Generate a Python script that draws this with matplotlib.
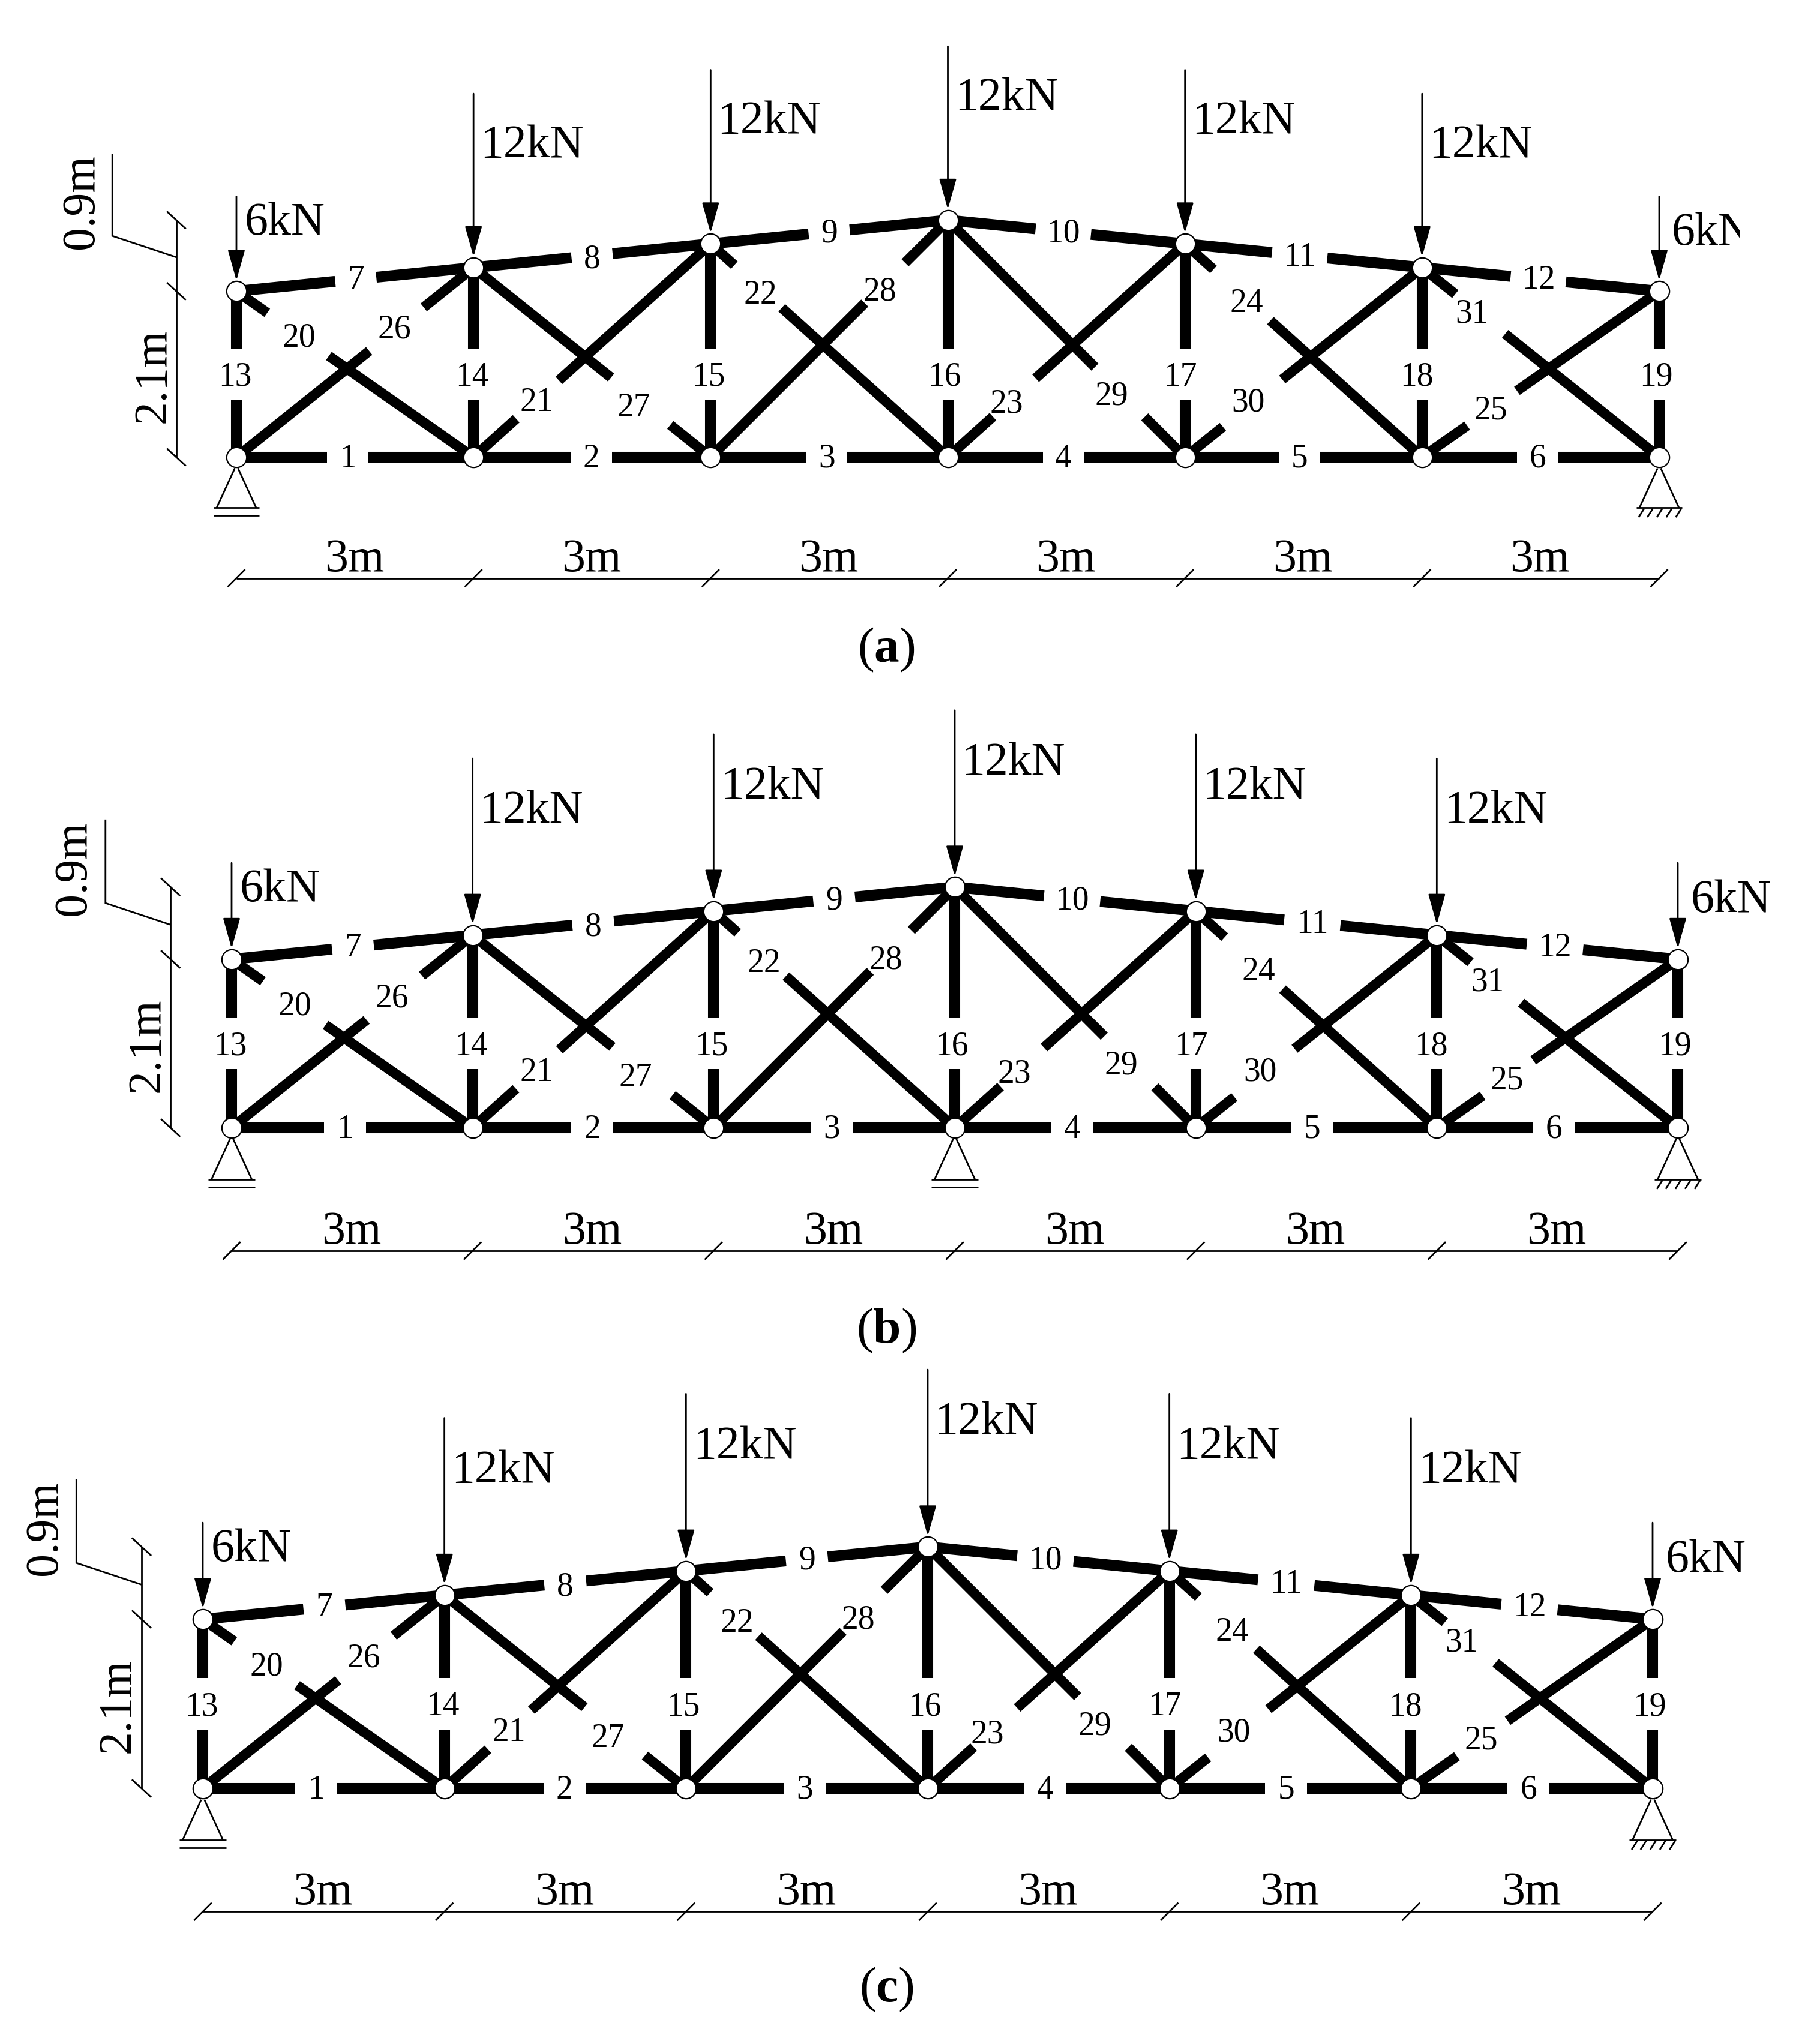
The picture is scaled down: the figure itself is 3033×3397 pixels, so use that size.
# -*- coding: utf-8 -*-
import matplotlib
matplotlib.use('Agg')
import matplotlib.pyplot as plt

plt.rcParams['font.family'] = 'Liberation Serif'
plt.rcParams['mathtext.fontset'] = 'custom'
plt.rcParams['mathtext.rm'] = 'Liberation Serif'
plt.rcParams['mathtext.bf'] = 'Liberation Serif:bold'

# =============================================================================
#                           truss data [m, kN]
# =============================================================================

node_x = [0, 3, 6, 9, 12, 15, 18]
top_y = [2.1, 2.4, 2.7, 3.0, 2.7, 2.4, 2.1]
loads = [6, 12, 12, 12, 12, 12, 6]
arrow_len = [1.2, 2.2, 2.2, 2.2, 2.2, 2.2, 1.2]

bottom_ids = [1, 2, 3, 4, 5, 6]
bottom_lab_x = [1.41, 4.49, 7.47, 10.46, 13.45, 16.46]
top_ids = [7, 8, 9, 10, 11, 12]
top_lab_x = [1.51, 4.50, 7.50, 10.46, 13.45, 16.47]
top_lab_y = [2.24, 2.50, 2.83, 2.83, 2.53, 2.24]
vert_ids = [13, 14, 15, 16, 17, 18, 19]
vert_lab_x = [-0.02, 2.98, 5.97, 8.96, 11.94, 14.93, 17.96]

diag_ids = [20, 26, 21, 27, 22, 28, 23, 29, 24, 30, 31, 25]
diag_span = [0, 0, 1, 1, 2, 2, 3, 3, 4, 4, 5, 5]
diag_down = [True, False, False, True, True, False, False, True, True, False, True, False]
diag_gap_a = [.13, .56, .18, .58, .10, .65, .19, .62, .12, .16, .14, .19]
diag_gap_b = [.39, .79, .36, .83, .30, .82, .37, .83, .36, .41, .35, .40]
diag_lab_x = [.79, 2.00, 3.80, 5.03, 6.63, 8.14, 9.74, 11.07, 12.78, 12.80, 15.63, 15.87]
diag_lab_y = [1.53, 1.63, .71, .64, 2.07, 2.11, .69, .79, 1.96, .71, 1.83, .61]

dim_x = [0, 3, 6, 9, 12, 15, 18]
dim_labels = ['3m', '3m', '3m', '3m', '3m', '3m']
captions = ['a', 'b', 'c']

# panel placement in pixels of the final picture
W, H = 3033, 3397
panel_x0 = [394, 386, 338]
panel_x1 = [2765, 2796, 2754]
panel_y0 = [762, 1880, 2981]
panel_top = [0, 1180, 2300]
panel_bot = [1180, 2300, 3397]
panel_right = [2899, 3033, 3033]
caption_y = [1083, 2218, 3316]
pin_nodes = [[0], [0, 3], [0]]
fix_nodes = [[6], [6], [6]]

hatch_dx = [-.26, -.15, -.03, .09, .21]

LW_THIN = 2.0
LW_CHORD = 13
LW_DIAG = 12

# =============================================================================
#                               Plotting
# =============================================================================

def gap_line(ax, x1, y1, x2, y2, fa, fb, lw):
    # member drawn in two parts, with a hole between fractions fa and fb
    for s, e in ((0, fa), (fb, 1)):
        ax.plot([x1 + s * (x2 - x1), x1 + e * (x2 - x1)],
                [y1 + s * (y2 - y1), y1 + e * (y2 - y1)],
                color='k', lw=lw, solid_capstyle='butt', zorder=2)


def thin(ax, xs, ys):
    ax.plot(xs, ys, color='k', lw=LW_THIN, solid_capstyle='butt',
            solid_joinstyle='miter', zorder=1)


def draw_panel(ax):
    # bottom chord
    for i, lx in zip(range(6), bottom_lab_x):
        x1, x2 = node_x[i], node_x[i + 1]
        fa = (lx - .26 - x1) / (x2 - x1)
        fb = (lx + .26 - x1) / (x2 - x1)
        gap_line(ax, x1, 0, x2, 0, fa, fb, LW_CHORD)
        ax.text(lx, -.02, str(bottom_ids[i]), fontsize=40, ha='center', va='center', zorder=5)

    # top chord
    for i, lx in enumerate(top_lab_x):
        x1, x2 = node_x[i], node_x[i + 1]
        hw = .26 if top_ids[i] < 10 else .35
        fa = (lx - hw - x1) / (x2 - x1)
        fb = (lx + hw - x1) / (x2 - x1)
        gap_line(ax, x1, top_y[i], x2, top_y[i + 1], fa, fb, LW_CHORD)
        ax.text(lx, top_lab_y[i], str(top_ids[i]), fontsize=40, ha='center', va='center', zorder=5)

    # verticals
    for i, lx in enumerate(vert_lab_x):
        gap_line(ax, node_x[i], 0, node_x[i], top_y[i], .73 / top_y[i], 1.37 / top_y[i], LW_CHORD)
        ax.text(lx, 1.01, str(vert_ids[i]), fontsize=40, ha='center', va='center', zorder=5)

    # diagonals
    for i, num in enumerate(diag_ids):
        k = diag_span[i]
        if diag_down[i]:
            y1, y2 = top_y[k], 0
        else:
            y1, y2 = 0, top_y[k + 1]
        gap_line(ax, node_x[k], y1, node_x[k + 1], y2, diag_gap_a[i], diag_gap_b[i], LW_DIAG)
        ax.text(diag_lab_x[i], diag_lab_y[i] - .02, str(num), fontsize=40, ha='center', va='center', zorder=5)

    # hinges
    for ys in ([0] * 7, top_y):
        ax.plot(node_x, ys, ls='none', marker='o', ms=24, mfc='w', mec='k', mew=1.6, zorder=4)

    # loads
    for i, load in enumerate(loads):
        ax.annotate('', xy=(node_x[i], top_y[i]), xytext=(node_x[i], top_y[i] + arrow_len[i]),
                    arrowprops=dict(arrowstyle='-|>,head_length=32,head_width=9', mutation_scale=1,
                                    lw=2, color='k', shrinkA=0, shrinkB=13), zorder=3)
        if i == 0:
            dx, dy = .10, .86
        elif i == 6:
            dx, dy = .16, .73
        else:
            dx, dy = .085, 1.54
        ax.text(node_x[i] + dx, top_y[i] + dy, '%dkN' % load, fontsize=56, ha='left',
                va='center', clip_on=True, zorder=5)


def draw_dims(ax):
    # horizontal dimension line
    thin(ax, [dim_x[0], dim_x[-1]], [-1.53, -1.53])
    for xd in dim_x:
        thin(ax, [xd - .11, xd + .11], [-1.64, -1.42])
    for i, lab in enumerate(dim_labels):
        ax.text((dim_x[i] + dim_x[i + 1]) / 2 - .01, -1.30, lab, fontsize=56, ha='center', va='center')

    # vertical dimension line
    thin(ax, [-.76, -.76], [0, top_y[3]])
    for yd in (0, top_y[0], top_y[3]):
        thin(ax, [-.88, -.64], [yd + .11, yd - .11])
    thin(ax, [-.76, -1.57, -1.57], [2.53, 2.80, 3.84])
    ax.text(-1.05, 1.03, '2.1m', fontsize=56, rotation=90, ha='center', va='center')
    ax.text(-1.96, 3.23, '0.9m', fontsize=56, rotation=90, ha='center', va='center')


def draw_support(ax, xn, fixed):
    thin(ax, [xn - .25, xn - .02], [-.64, -.14])
    thin(ax, [xn + .25, xn + .02], [-.64, -.14])
    thin(ax, [xn - .29, xn + .29], [-.64, -.64])
    if fixed:
        for dx in hatch_dx:
            thin(ax, [xn + dx, xn + dx + .07], [-.76, -.65])
    else:
        thin(ax, [xn - .29, xn + .29], [-.74, -.74])


fig = plt.figure(figsize=(W / 100, H / 100), dpi=100)

for p in range(3):
    scale = (panel_x1[p] - panel_x0[p]) / float(node_x[-1] - node_x[0])
    ax = fig.add_axes([0, 1 - panel_bot[p] / H, panel_right[p] / W, (panel_bot[p] - panel_top[p]) / H])
    ax.set_xlim(-panel_x0[p] / scale, (panel_right[p] - panel_x0[p]) / scale)
    ax.set_ylim((panel_y0[p] - panel_bot[p]) / scale, (panel_y0[p] - panel_top[p]) / scale)
    ax.axis('off')

    draw_panel(ax)
    draw_dims(ax)
    for n in pin_nodes[p]:
        draw_support(ax, node_x[n], False)
    for n in fix_nodes[p]:
        draw_support(ax, node_x[n], True)

    fig.text(1477 / W, 1 - caption_y[p] / H, r'($\mathbf{%s}$)' % captions[p],
             fontsize=60, ha='center', va='center')

fig.savefig('out.png', dpi=100, facecolor='w')
